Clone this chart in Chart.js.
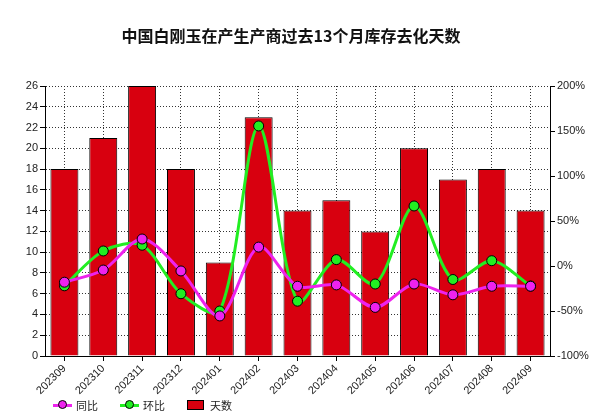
<!DOCTYPE html>
<html>
<head>
<meta charset="utf-8">
<script src="https://cdn.jsdelivr.net/npm/chart.js@4"></script>
<style>
  html, body { margin: 0; padding: 0; background: #fff; }
  #wrap { position: relative; width: 590px; height: 416px; }
  #title {
    position: absolute; left: 0; top: 23px; width: 582px; text-align: center;
    font: bold 16px "Noto Sans CJK SC", sans-serif; color: #111;
  }
  #legend {
    position: absolute; left: 53px; top: 398px; height: 14px;
    font: 11px "Noto Sans CJK SC", sans-serif; color: #222; display: flex; align-items: center;
  }
  .item { display: flex; align-items: center; margin-right: 22px; }
  .ln { position: relative; width: 19px; height: 3px; margin-right: 4px; }
  .ln i { position: absolute; left: 5px; top: -4px; width: 9px; height: 9px; border-radius: 50%;
          border: 1px solid #000; box-sizing: border-box; }
  .box { width: 17px; height: 10px; background: #d8000f; border: 1px solid #000;
         box-sizing: border-box; margin-right: 6px; }
</style>
</head>
<body>
<div id="wrap">
  <canvas id="c" width="590" height="416"></canvas>
  <div id="title">中国白刚玉在产生产商过去13个月库存去化天数</div>
  <div id="legend">
    <span class="item"><span class="ln" style="background:#ee22ee"><i style="background:#ee22ee"></i></span>同比</span>
    <span class="item"><span class="ln" style="background:#22ee22"><i style="background:#22ee22"></i></span>环比</span>
    <span class="item"><span class="box"></span>天数</span>
  </div>
</div>
<script>
const months = ["202309", "202310", "202311", "202312", "202401", "202402", "202403",
                "202404", "202405", "202406", "202407", "202408", "202409"];
const days = [18, 21, 26, 18, 9, 23, 14, 15, 12, 20, 17, 18, 14];
const yoy = [-18, -4.5, 30, -5.5, -55.5, 21, -22.5, -21, -46, -20, -32, -22.5, -22.5];
const mom = [-22, 16.7, 23.1, -30.8, -50, 155.6, -39.1, 7.1, -20, 66.7, -15, 5.9, -22.2];

const RED = "#d8000f";
const MAGENTA = "#ee22ee";
const GREEN = "#22ee22";

const tickFont = { family: "Liberation Sans", size: 11 };

function lineSet(label, data, color) {
  return {
    type: "line",
    label,
    data,
    yAxisID: "pct",
    borderColor: color,
    backgroundColor: color,
    borderWidth: 3,
    pointRadius: 5,
    pointBorderColor: "#000",
    pointBorderWidth: 1,
    pointBackgroundColor: color,
    tension: 0.3,
    order: 0
  };
}

new Chart(document.getElementById("c"), {
  data: {
    labels: months,
    datasets: [
      lineSet("同比", yoy, MAGENTA),
      lineSet("环比", mom, GREEN),
      {
        type: "bar",
        label: "天数",
        data: days,
        yAxisID: "days",
        backgroundColor: RED,
        borderColor: "#000",
        borderWidth: 1,
        barPercentage: 0.72,
        categoryPercentage: 1,
        order: 1
      }
    ]
  },
  options: {
    responsive: false,
    animation: false,
    layout: { padding: { top: 86, left: 0, right: 0, bottom: 16 } },
    plugins: {
      legend: { display: false },
      tooltip: { enabled: false }
    },
    scales: {
      x: {
        offset: true,
        grid: { color: "#333", tickColor: "#000", tickLength: 5, offset: false },
        border: { display: true, color: "#000", width: 1, dash: [1, 2] },
        ticks: { color: "#222", font: tickFont, maxRotation: 45, minRotation: 45, padding: 1 },
        afterFit: s => { s.height = 44; }
      },
      days: {
        position: "left",
        min: 0,
        max: 26,
        grid: { color: "#333", tickColor: "#000", tickLength: 5 },
        border: { display: true, color: "#000", width: 1, dash: [1, 2] },
        ticks: { stepSize: 2, color: "#222", font: tickFont, padding: 2 },
        afterFit: s => { s.width = 45; }
      },
      pct: {
        position: "right",
        min: -100,
        max: 200,
        grid: { drawOnChartArea: false, color: "#000", tickLength: 5 },
        border: { display: true, color: "#000", width: 1 },
        ticks: {
          stepSize: 50,
          color: "#222",
          font: tickFont,
          padding: 2,
          callback: v => v + "%"
        },
        afterFit: s => { s.width = 40; }
      }
    }
  }
});
</script>
</body>
</html>
